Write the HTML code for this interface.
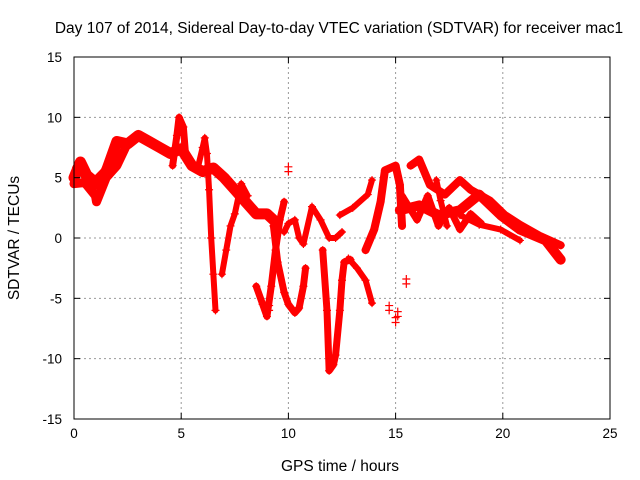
<!DOCTYPE html>
<html><head><meta charset="utf-8"><style>
body{margin:0;background:#fff}
svg{display:block;font-family:"Liberation Sans",sans-serif}
</style></head><body>
<svg id="chart" width="640" height="480">
<text x="339" y="33" font-size="15.5" text-anchor="middle" fill="#000">Day 107 of 2014, Sidereal Day-to-day VTEC variation (SDTVAR) for receiver mac1</text>
<g id="grid"></g>
<g id="series"></g>
<rect x="74" y="57" width="536" height="362" fill="none" stroke="#000" stroke-width="1"/>
<g id="ticks"></g>
<text x="340" y="471" font-size="15.5" text-anchor="middle">GPS time / hours</text>
<text transform="translate(19,238) rotate(-90)" font-size="15.5" text-anchor="middle">SDTVAR / TECUs</text>
</svg>
<script>
const xTicks=[0,5,10,15,20,25];
const yTicks=[-15,-10,-5,0,5,10,15];
// tracks: hours and values
const trackA_h=[0,0.3,0.6,1,1.5,2,2.5,3,3.5,4,4.5,5,5.5,6,6.5,7,7.5,8,8.5,9,9.3];
const trackA_v=[5,6.3,5.2,4.6,5.5,8,7.8,8.5,8,7.5,7,7.4,6,5.5,5.8,5,4,3,2,2,1.5];
const trackB_h=[0,0.5,1,1.05,1.5,2,2.4];
const trackB_v=[4.5,4.6,3.5,3,5,6,7.5];
const trackC_h=[4.6,4.8,4.9,5.1,5.2,5.5];
const trackC_v=[6,8.5,10,9.2,7,6];
const trackD_h=[5.8,6,6.1,6.2,6.3,6.4,6.5,6.6];
const trackD_v=[6,7.5,8.3,7,4,0,-3,-6];
const trackE_h=[6.9,7.1,7.3,7.5,7.8,8.1];
const trackE_v=[-3,-1,1,2,4.5,3.5];
const trackF_h=[8.5,8.8,9.0,9.2,9.4,9.6,9.8];
const trackF_v=[-4,-5.5,-6.5,-4,-1,1.5,3];
const trackG_h=[9.3,9.5,9.8,10.0,10.3,10.5,10.7,10.8];
const trackG_v=[1,-2,-4.5,-5.5,-6.2,-5.8,-4,-2.5];
const trackH_h=[9.8,10.0,10.3,10.5,10.7,11.1,11.5,11.9,12.2,12.5];
const trackH_v=[0.5,1.2,1.5,0,-0.5,2.6,1.5,0,0,0.5];
const trackI_h=[11.6,11.8,11.9,12.1,12.2,12.4,12.5,12.6,12.9];
const trackI_v=[-1,-6,-11,-10.5,-9.7,-6,-3.5,-2,-1.8];
const trackJ_h=[12.8,13.2,13.6,13.9];
const trackJ_v=[-1.7,-2.5,-3.5,-5.4];
const trackK_h=[12.4,13,13.7,13.9];
const trackK_v=[1.9,2.5,3.6,4.8];
const trackL_h=[13.6,14,14.3,14.5,15,15.2,15.3];
const trackL_v=[-1,0.7,3,5.6,6,4.4,1];
const trackM_h=[15.2,16.1,17,18,18.9,19.9,20.8,22,22.7];
const trackM_v=[2.3,2.7,1.9,2.3,3.6,1.9,0.7,-0.2,-1.8];
const trackN_h=[15.7,16.1,16.6,17.3,18,18.5,19.4,20.1,20.8,21.7,22.7];
const trackN_v=[6,6.5,4.4,3.6,4.8,4,3.1,1.9,1.1,0.2,-0.6];
const trackO_h=[18,18.9,19.9,20.8];
const trackO_v=[1.9,1.1,0.7,-0.2];
const trackP_h=[16.9,17.1,17.4];
const trackP_v=[4.8,3.1,1];
const trackQ_h=[15.3,16,16.5,17,17.5,18,18.5,19];
const trackQ_v=[3.5,1.5,3.5,1,2.5,0.7,2,1.2];
const trackR_h=[0.1,0.4,0.8,1.2,1.7,2.2];
const trackR_v=[5.8,5.5,4,4.8,6.5,7];
const isoH=[9.1,10.0,15.0,15.5,14.7,15.1];
const isoV=[-6,5.5,-7,-3.8,-6,-6.5];

const NS="http://www.w3.org/2000/svg";
const X0=74,X1=610,Y0=419,Y1=57;
function xs(h){return X0+(h-0)/(25-0)*(X1-X0);}
function ys(v){return Y0-(v+15)/30*(Y0-Y1);}
const grid=document.getElementById('grid'),ticks=document.getElementById('ticks'),ser=document.getElementById('series');
function mk(tag,attrs,parent){const e=document.createElementNS(NS,tag);for(const k in attrs)e.setAttribute(k,attrs[k]);parent.appendChild(e);return e;}
xTicks.forEach(t=>{
  const x=xs(t);
  if(t>0&&t<25){const l=mk('line',{x1:x,x2:x,y1:Y1,y2:Y0,stroke:'#999','stroke-dasharray':'2,3'},grid);
  
  }
  mk('line',{x1:x,x2:x,y1:Y0,y2:Y0-6,stroke:'#000'},ticks);
  mk('line',{x1:x,x2:x,y1:Y1,y2:Y1+6,stroke:'#000'},ticks);
  const tx=mk('text',{x:x,y:Y0+19,'font-size':13.5,'text-anchor':'middle'},ticks);tx.textContent=t;
  
  
});
yTicks.forEach(t=>{
  const y=ys(t);
  if(t>-15&&t<15){const l=mk('line',{x1:X0,x2:X1,y1:y,y2:y,stroke:'#999','stroke-dasharray':'2,3'},grid);
  
  }
  mk('line',{x1:X0,x2:X0+6,y1:y,y2:y,stroke:'#000'},ticks);
  mk('line',{x1:X1,x2:X1-6,y1:y,y2:y,stroke:'#000'},ticks);
  const tx=mk('text',{x:X0-12,y:y+5,'font-size':13.5,'text-anchor':'end'},ticks);tx.textContent=t;
  
  
});
function plus(h,v){const x=xs(h),y=ys(v);
  mk('path',{d:`M${x-4} ${y}H${x+4}M${x} ${y-4}V${y+4}`,stroke:'#f00','stroke-width':1.2,fill:'none'},ser);}
const tracks=[[trackA_h,trackA_v,11],[trackB_h,trackB_v,9],[trackC_h,trackC_v,7],[trackD_h,trackD_v,6],[trackE_h,trackE_v,6],[trackF_h,trackF_v,7],[trackG_h,trackG_v,7],[trackH_h,trackH_v,6],[trackI_h,trackI_v,7],[trackJ_h,trackJ_v,6],[trackK_h,trackK_v,6],[trackL_h,trackL_v,8],[trackM_h,trackM_v,10],[trackN_h,trackN_v,8],[trackO_h,trackO_v,6],[trackP_h,trackP_v,6],[trackQ_h,trackQ_v,7],[trackR_h,trackR_v,8]];
tracks.forEach(([H,V,w])=>{
  const p=mk('polyline',{points:H.map((h,i)=>xs(h)+','+ys(V[i])).join(' '),fill:'none',stroke:'#f00','stroke-width':w,'stroke-linejoin':'round','stroke-linecap':'round'},ser);
  
  
  H.forEach((h,i)=>plus(h,V[i]));
});
isoH.forEach((h,i)=>{plus(h,isoV[i]);plus(h,isoV[i]+0.4);});
</script>
</body></html>
